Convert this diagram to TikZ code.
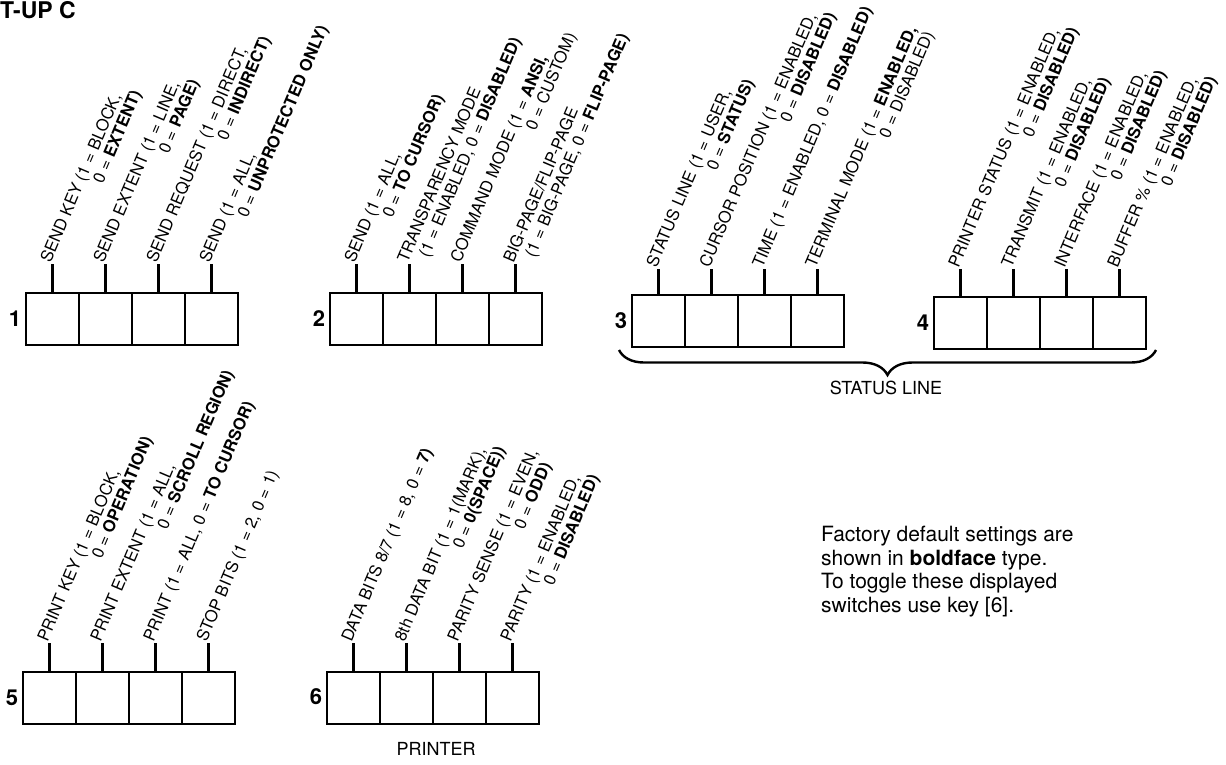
\documentclass[tikz,border=0pt]{standalone}
\usepackage{fontspec}
\setmainfont{TeX Gyre Heros}
\usetikzlibrary{decorations.pathreplacing}
\newcommand{\two}[2]{\begin{tabular}[t]{@{}l@{}}#1\\#2\end{tabular}}

\begin{document}
\begin{tikzpicture}[x=1pt,y=-1pt,
        cell/.style={draw,line width=2.6pt,minimum width=53pt,minimum height=52pt,inner sep=0pt},
        tag/.style={rotate=67,anchor=base west,inner sep=0pt,font=\fontsize{16.5}{17}\selectfont},
        num/.style={font=\fontsize{22}{22}\selectfont\bfseries},
        tick/.style={line width=2.6pt}]
        \useasboundingbox (0,0) rectangle (1226,764);

        \node[anchor=base west,inner sep=0pt,font=\fontsize{23}{23}\selectfont\bfseries] (title) at (0,18) {T-UP C};

        % switch banks
        \node[cell] (c11) at (52.5,319) {};
        \node[cell] (c12) at (105.5,319) {};
        \node[cell] (c13) at (158.5,319) {};
        \node[cell] (c14) at (211.5,319) {};
        \node[cell] (c21) at (356.5,319) {};
        \node[cell] (c22) at (409.5,319) {};
        \node[cell] (c23) at (462.5,319) {};
        \node[cell] (c24) at (515.5,319) {};
        \node[cell] (c31) at (658.5,321) {};
        \node[cell] (c32) at (711.5,321) {};
        \node[cell] (c33) at (764.5,321) {};
        \node[cell] (c34) at (817.5,321) {};
        \node[cell] (c41) at (960.5,323) {};
        \node[cell] (c42) at (1013.5,323) {};
        \node[cell] (c43) at (1066.5,323) {};
        \node[cell] (c44) at (1119.5,323) {};
        \node[cell] (c51) at (49.5,698) {};
        \node[cell] (c52) at (102.5,698) {};
        \node[cell] (c53) at (155.5,698) {};
        \node[cell] (c54) at (208.5,698) {};
        \node[cell] (c61) at (353.5,698) {};
        \node[cell] (c62) at (406.5,698) {};
        \node[cell] (c63) at (459.5,698) {};
        \node[cell] (c64) at (512.5,698) {};

        \node[num,anchor=east] (n1) at (c11.west) {1};
        \node[num,anchor=east] (n2) at (c21.west) {2};
        \node[num,anchor=east] (n3) at (c31.west) {3};
        \node[num,anchor=east] (n4) at (c41.west) {4};
        \node[num,anchor=east] (n5) at (c51.west) {5};
        \node[num,anchor=east] (n6) at ([yshift=1]c61.west) {6};

        % switch labels
        \node[tag] (l11) at ([shift={(-2,-28)}]c11.north) {\two{SEND KEY (1 = BLOCK,}{\hphantom{SEND KEY (}0 = \textbf{EXTENT)}}};
        \node[tag] (l12) at ([shift={(-2,-28)}]c12.north) {\two{SEND EXTENT (1 = LINE,}{\hphantom{SEND EXTENT (}0 = \textbf{PAGE)}}};
        \node[tag] (l13) at ([shift={(-2,-28)}]c13.north) {\two{SEND REQUEST (1 = DIRECT,}{\hphantom{SEND REQUEST (}0 = \textbf{INDIRECT)}}};
        \node[tag] (l14) at ([shift={(-2,-28)}]c14.north) {\two{SEND (1 = ALL,}{\hphantom{SEND (}0 = \textbf{UNPROTECTED ONLY)}}};
        \node[tag] (l21) at ([shift={(-2,-28)}]c21.north) {\two{SEND (1 = ALL,}{\hphantom{SEND (}0 = \textbf{TO CURSOR)}}};
        \node[tag] (l22) at ([shift={(-2,-28)}]c22.north) {\two{TRANSPARENCY MODE}{\hspace*{.8em}(1 = ENABLED, 0 = \textbf{DISABLED)}}};
        \node[tag] (l23) at ([shift={(-2,-28)}]c23.north) {\two{COMMAND MODE (1 = \textbf{ANSI,}}{\hphantom{COMMAND MODE (}0 = CUSTOM)}};
        \node[tag] (l24) at ([shift={(-2,-28)}]c24.north) {\two{BIG-PAGE/FLIP-PAGE}{\hspace*{.8em}(1 = BIG-PAGE, 0 = \textbf{FLIP-PAGE)}}};
        \node[tag] (l31) at ([shift={(-2,-25)}]c31.north) {\two{STATUS LINE (1 = USER,}{\hphantom{STATUS LINE (}0 = \textbf{STATUS)}}};
        \node[tag] (l32) at ([shift={(-2,-25)}]c32.north) {\two{CURSOR POSITION (1 = ENABLED,}{\hphantom{CURSOR POSITION (}0 = \textbf{DISABLED)}}};
        \node[tag] (l33) at ([shift={(-2,-25)}]c33.north) {TIME (1 = ENABLED, 0 = \textbf{DISABLED)}};
        \node[tag] (l34) at ([shift={(-2,-25)}]c34.north) {\two{TERMINAL MODE (1 = \textbf{ENABLED,}}{\hphantom{TERMINAL MODE (}0 = DISABLED)}};
        \node[tag] (l41) at ([shift={(-2,-27)}]c41.north) {\two{PRINTER STATUS (1 = ENABLED,}{\hphantom{PRINTER STATUS (}0 = \textbf{DISABLED)}}};
        \node[tag] (l42) at ([shift={(-2,-27)}]c42.north) {\two{TRANSMIT (1 = ENABLED,}{\hphantom{TRANSMIT (}0 = \textbf{DISABLED)}}};
        \node[tag] (l43) at ([shift={(-2,-27)}]c43.north) {\two{INTERFACE (1 = ENABLED,}{\hphantom{INTERFACE (}0 = \textbf{DISABLED)}}};
        \node[tag] (l44) at ([shift={(-2,-27)}]c44.north) {\two{BUFFER \% (1 = ENABLED,}{\hphantom{BUFFER \% (}0 = \textbf{DISABLED)}}};
        \node[tag] (l51) at ([shift={(-2,-28)}]c51.north) {\two{PRINT KEY (1 = BLOCK,}{\hphantom{PRINT KEY (}0 = \textbf{OPERATION)}}};
        \node[tag] (l52) at ([shift={(-2,-28)}]c52.north) {\two{PRINT EXTENT (1 = ALL,}{\hphantom{PRINT EXTENT (}0 = \textbf{SCROLL REGION)}}};
        \node[tag] (l53) at ([shift={(-2,-28)}]c53.north) {PRINT (1 = ALL, 0 = \textbf{TO CURSOR)}};
        \node[tag] (l54) at ([shift={(-2,-28)}]c54.north) {STOP BITS (1 = 2, 0 = 1)};
        \node[tag] (l61) at ([shift={(-2,-28)}]c61.north) {DATA BITS 8/7 (1 = 8, 0 = \textbf{7)}};
        \node[tag] (l62) at ([shift={(-2,-28)}]c62.north) {\two{8th DATA BIT (1 = 1(MARK),}{\hphantom{8th DATA BIT (}0 = \textbf{0(SPACE))}}};
        \node[tag] (l63) at ([shift={(-2,-28)}]c63.north) {\two{PARITY SENSE (1 = EVEN,}{\hphantom{PARITY SENSE (}0 = \textbf{ODD)}}};
        \node[tag] (l64) at ([shift={(-2,-28)}]c64.north) {\two{PARITY (1 = ENABLED,}{\hphantom{PARITY (}0 = \textbf{DISABLED)}}};

        % ticks
        \draw[tick] (c11.north) -- (c11.north |- l11.base west);
        \draw[tick] (c12.north) -- (c12.north |- l12.base west);
        \draw[tick] (c13.north) -- (c13.north |- l13.base west);
        \draw[tick] (c14.north) -- (c14.north |- l14.base west);
        \draw[tick] (c21.north) -- (c21.north |- l21.base west);
        \draw[tick] (c22.north) -- (c22.north |- l22.base west);
        \draw[tick] (c23.north) -- (c23.north |- l23.base west);
        \draw[tick] (c24.north) -- (c24.north |- l24.base west);
        \draw[tick] (c31.north) -- (c31.north |- l31.base west);
        \draw[tick] (c32.north) -- (c32.north |- l32.base west);
        \draw[tick] (c33.north) -- (c33.north |- l33.base west);
        \draw[tick] (c34.north) -- (c34.north |- l34.base west);
        \draw[tick] (c41.north) -- (c41.north |- l41.base west);
        \draw[tick] (c42.north) -- (c42.north |- l42.base west);
        \draw[tick] (c43.north) -- (c43.north |- l43.base west);
        \draw[tick] (c44.north) -- (c44.north |- l44.base west);
        \draw[tick] (c51.north) -- (c51.north |- l51.base west);
        \draw[tick] (c52.north) -- (c52.north |- l52.base west);
        \draw[tick] (c53.north) -- (c53.north |- l53.base west);
        \draw[tick] (c54.north) -- (c54.north |- l54.base west);
        \draw[tick] (c61.north) -- (c61.north |- l61.base west);
        \draw[tick] (c62.north) -- (c62.north |- l62.base west);
        \draw[tick] (c63.north) -- (c63.north |- l63.base west);
        \draw[tick] (c64.north) -- (c64.north |- l64.base west);

        % brace and captions
        \coordinate (brl) at (619,350);
        \coordinate (brr) at (1156,350);
        \draw[line width=2.4pt,decorate,decoration={brace,amplitude=25pt}] (brr) -- (brl);
        \node[font=\fontsize{18}{18}\selectfont] (status) at (886,388) {STATUS LINE};
        \node[font=\fontsize{18}{18}\selectfont] (printer) at (436,749) {PRINTER};

        \node[anchor=north west,inner sep=0pt,align=left,font=\fontsize{21}{23.5}\selectfont] (note) at (821,526)
            {Factory default settings are\\shown in \textbf{boldface} type.\\To toggle these displayed\\switches use key [6].};
    \end{tikzpicture}
\end{document}
